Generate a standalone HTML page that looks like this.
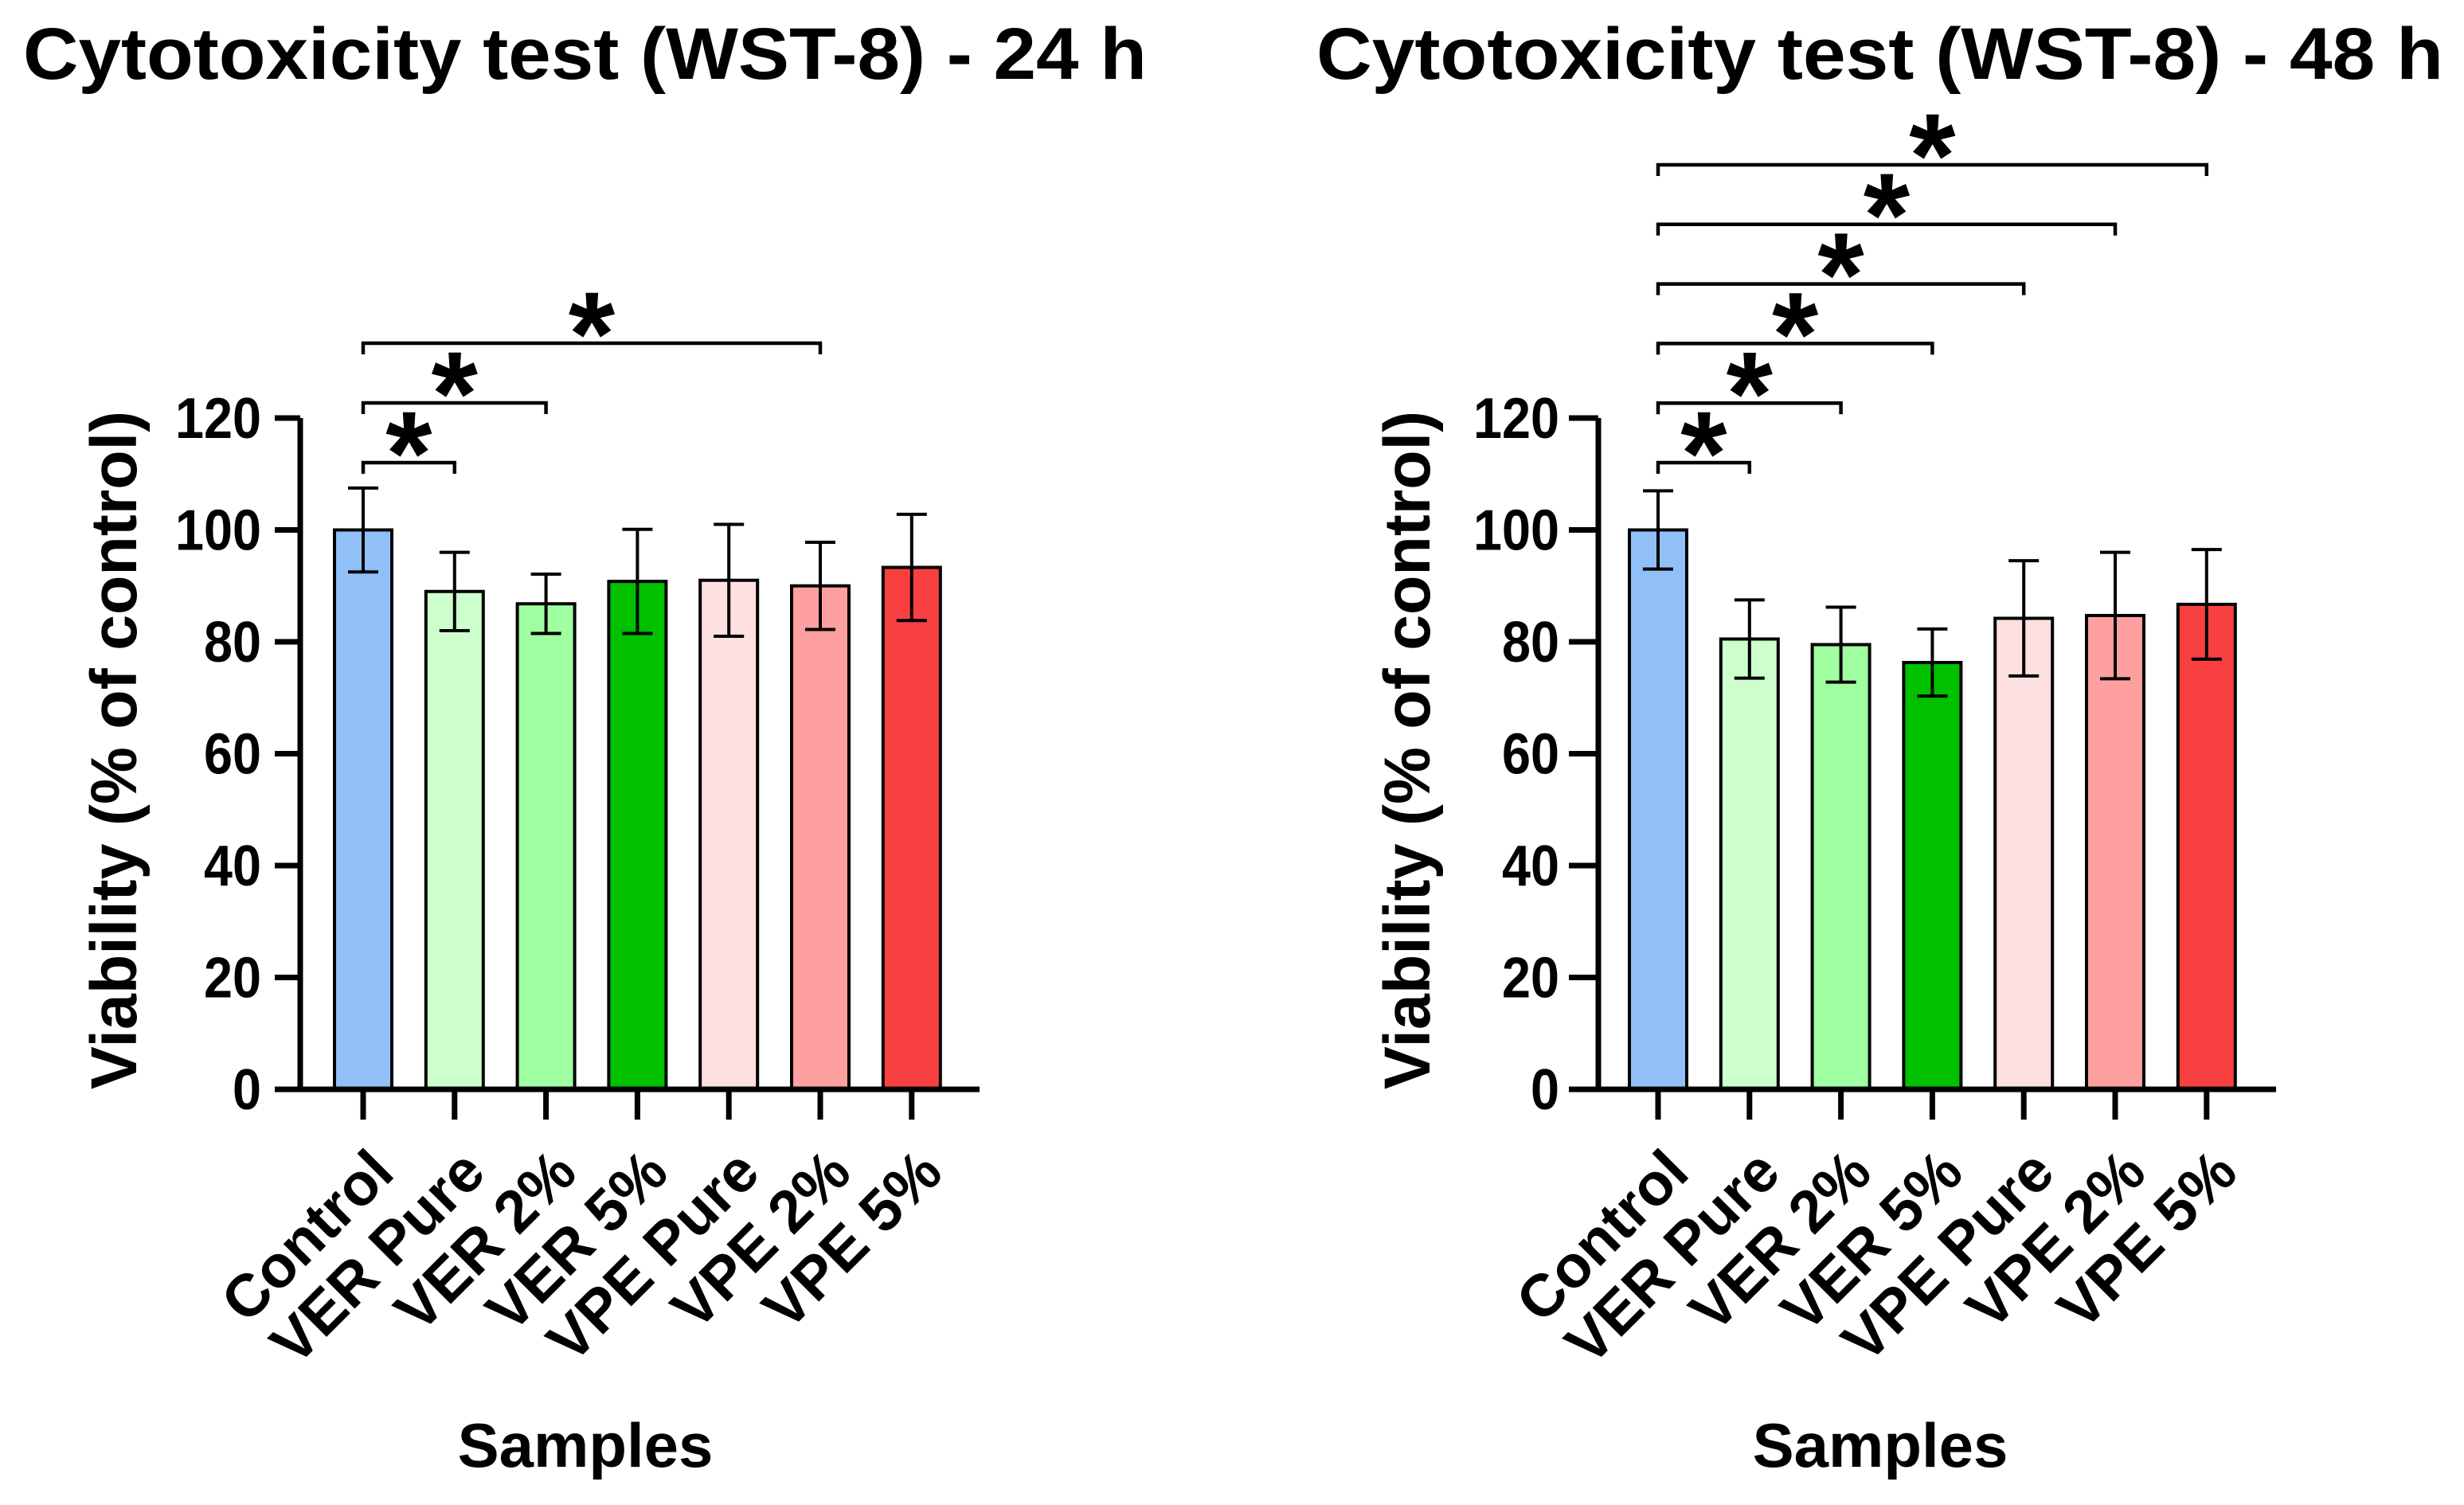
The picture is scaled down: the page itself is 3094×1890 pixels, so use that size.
<!DOCTYPE html>
<html><head><meta charset="utf-8"><style>
html,body{margin:0;padding:0;background:#fff;}
svg{display:block;font-family:"Liberation Sans",Arial,sans-serif;font-weight:bold;}
</style></head><body>
<svg id="chart" width="3094" height="1890" viewBox="0 0 3094 1890" xmlns="http://www.w3.org/2000/svg"></svg>
<script>
const categories = ["Control","VER Pure","VER 2%","VER 5%","VPE Pure","VPE 2%","VPE 5%"];
const barColors = ["#91BFF8","#CCFFCC","#A0FFA0","#00C000","#FFE0E0","#FFA0A0","#F84040"];
const yTicks = [0,20,40,60,80,100,120];
const means24 = [100,89,86.8,90.8,91,90,93.3];
const errs24 = [7.5,7,5.3,9.3,10,7.8,9.5];
const sig24 = [1,2,5];
const means48 = [100,80.5,79.5,76.3,84.2,84.7,86.7];
const errs48 = [7,7,6.7,6,10.3,11.3,9.8];
const sig48 = [1,2,3,4,5,6];

const NS="http://www.w3.org/2000/svg";
const svg=document.getElementById('chart');
function mk(tag,attrs,parent){const e=document.createElementNS(NS,tag);for(const k in attrs)e.setAttribute(k,attrs[k]);(parent||svg).appendChild(e);return e;}

function drawPanel(cfg){
  const g=mk('g',{});
  
  
  const y0=1368,y120=525;
  const yScale=v=>y0-(v/120)*(y0-y120);
  const step=114.8;
  const xScale=i=>cfg.x0+i*step;
  const bw=72;
  const t=mk('text',{x:cfg.titleX,y:99,'font-size':92,textLength:cfg.titleW,lengthAdjust:'spacingAndGlyphs'},g);
  t.textContent=cfg.title;
  
  
  cfg.means.forEach((m,i)=>{
    const cx=xScale(i);
    const r=mk('rect',{x:cx-bw/2,y:yScale(m),width:bw,height:y0-yScale(m),fill:barColors[i],stroke:'#000','stroke-width':4},g);
    
    
    const e=cfg.errs[i];
    const eb=mk('path',{d:`M${cx},${yScale(m+e)}V${yScale(m-e)}M${cx-19},${yScale(m+e)}H${cx+19}M${cx-19},${yScale(m-e)}H${cx+19}`,stroke:'#000','stroke-width':4,fill:'none'},g);
    
    
  });
  const ax=mk('path',{d:`M${cfg.axisX},${y0+3}V${y120}M${cfg.axStart},${y0}H${cfg.axEnd}`,stroke:'#000','stroke-width':7,fill:'none'},g);
  
  
  yTicks.forEach(v=>{
    const yy=yScale(v);
    mk('line',{x1:cfg.axStart,x2:cfg.axisX,y1:yy,y2:yy,stroke:'#000','stroke-width':7},g);
    const s=String(v);
    const tl=mk('text',{x:cfg.axisX-49,y:yy+25,'font-size':72,'text-anchor':'end',textLength:s.length*36,lengthAdjust:'spacingAndGlyphs'},g);
    tl.textContent=s;
    
    
  });
  categories.forEach((c,i)=>{
    const cx=xScale(i);
    mk('line',{x1:cx,x2:cx,y1:y0,y2:y0+38,stroke:'#000','stroke-width':7},g);
    const ax2=cx+42,ay=1476;
    const cl=mk('text',{x:ax2,y:ay,'font-size':75,'text-anchor':'end',transform:`rotate(-45 ${ax2} ${ay})`},g);
    cl.textContent=c;
    
    
  });
  const yt=mk('text',{x:0,y:0,'font-size':82,'text-anchor':'middle',textLength:852,lengthAdjust:'spacingAndGlyphs',transform:`translate(${cfg.yTitleX},942) rotate(-90)`},g);
  yt.textContent='Viability (% of control)';
  
  
  const xt=mk('text',{x:cfg.samplesX,y:1842,'font-size':78,'text-anchor':'middle'},g);
  xt.textContent='Samples';
  
  
  cfg.sig.forEach((j,k)=>{
    const ly=581-k*cfg.sigStep;
    const x1=xScale(0),x2=xScale(j);
    const b=mk('path',{d:`M${x1},${ly+14}V${ly}H${x2}V${ly+14}`,stroke:'#000','stroke-width':4.5,fill:'none'},g);
    
    
    const s=mk('text',{x:(x1+x2)/2,y:ly+40,'font-size':150,'text-anchor':'middle'},g);
    s.textContent='*';
    
    
  });
}
drawPanel({name:'panel-24h',title:'Cytotoxicity test (WST-8) - 24 h',titleX:29,titleW:1411,means:means24,errs:errs24,sig:sig24,sigStep:75,
  x0:456,axisX:377,axStart:345,axEnd:1230,yTitleX:171,samplesX:735});
drawPanel({name:'panel-48h',title:'Cytotoxicity test (WST-8) - 48 h',titleX:1653,titleW:1415,means:means48,errs:errs48,sig:sig48,sigStep:74.8,
  x0:2082,axisX:2007,axStart:1970,axEnd:2858,yTitleX:1795,samplesX:2361});
</script>
</body></html>
